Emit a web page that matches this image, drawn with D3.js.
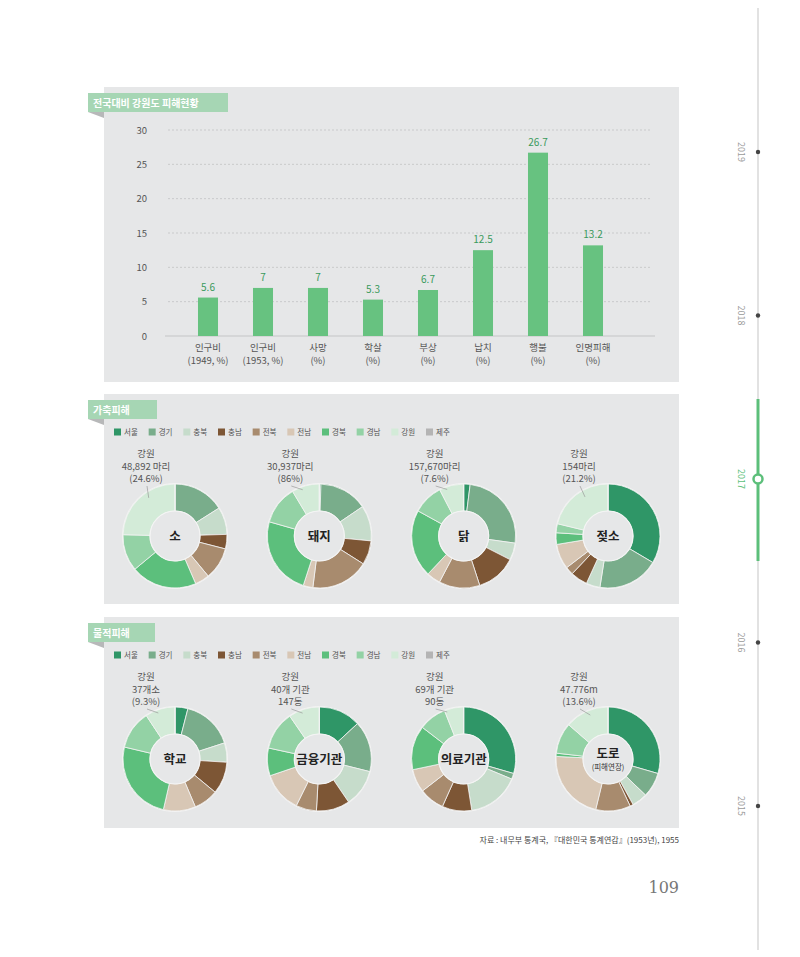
<!DOCTYPE html>
<html>
<head>
<meta charset="utf-8">
<script src="https://cdn.jsdelivr.net/npm/d3@7"></script>
<style>
  body { margin: 0; background: #fff; }
  svg { display: block; font-family: "Noto Sans CJK KR", "Noto Sans", sans-serif; }
</style>
</head>
<body>
<svg id="page" width="800" height="957"></svg>
<script>
// ---- data ----
const barNames = ['인구비', '인구비', '사망', '학살', '부상', '납치', '행불', '인명피해'];
const barUnits = ['(1949, %)', '(1953, %)', '(%)', '(%)', '(%)', '(%)', '(%)', '(%)'];
const barValues = [5.6, 7, 7, 5.3, 6.7, 12.5, 26.7, 13.2];
const yTicks = [0, 5, 10, 15, 20, 25, 30];

const regions = ['서울', '경기', '충북', '충남', '전북', '전남', '경북', '경남', '강원', '제주'];
const regionColors = ['#2f9667', '#79ad8b', '#c6dccb', '#7d5635', '#a88b6e', '#d8c7b5', '#5cbf7c', '#93d2a5', '#d3ebd8', '#b4b4b4'];

const livestockNames = ['소', '돼지', '닭', '젖소'];
const livestockShares = [
    [0, 16, 8.5, 4.5, 10, 4.5, 20.5, 11.4, 24.6, 0],
    [0.5, 15, 11, 7.5, 18, 3, 24.4, 12, 8.6, 0],
    [2, 25.2, 5.3, 12.5, 12.7, 4.3, 21, 9.4, 7.6, 0],
    [33.5, 19, 4.3, 5.3, 2.5, 7.8, 3.6, 2.8, 21.2, 0]
];
const livestockNotes = [
    ['강원', '48,892 마리', '(24.6%)'],
    ['강원', '30,937마리', '(86%)'],
    ['강원', '157,670마리', '(7.6%)'],
    ['강원', '154마리', '(21.2%)']
];

const propertyNames = ['학교', '금융기관', '의료기관', '도로'];
const propertySubs = ['', '', '', '(피해연장)'];
const propertyShares = [
    [4, 16, 6, 10, 7.6, 10, 25.1, 12, 9.3, 0],
    [13.1, 15.8, 11.6, 10.4, 6.4, 12.5, 8.6, 12, 9.6, 0],
    [29.5, 1.8, 16.2, 9.2, 7.8, 7.2, 13.7, 8.6, 6, 0],
    [29.5, 7.7, 4.8, 1, 10.8, 22, 1, 9.6, 13.6, 0]
];
const propertyNotes = [
    ['강원', '37개소', '(9.3%)'],
    ['강원', '40개 기관', '147동'],
    ['강원', '69개 기관', '90동'],
    ['강원', '47.776m', '(13.6%)']
];

const years = ['2019', '2018', '2017', '2016', '2015'];
const currentYear = '2017';

// ---- constants ----
const PANEL_FILL = '#e6e7e8';
const TAB_FILL = '#a6d6b4';
const BAR_FILL = '#67c280';
const VALUE_COLOR = '#3a9a5c';
const TEXT_COLOR = '#555';
const GREEN = '#5cbf7a';

const svg = d3.select('#page');

// ---- panels and tabs ----
function panel(y0, y1, title, tabW) {
    svg.append('rect').attr('x', 104).attr('y', y0).attr('width', 575).attr('height', y1 - y0).attr('fill', PANEL_FILL);
    const ty = y0 + 6;
    svg.append('path').attr('d', `M88,${ty + 19} L104,${ty + 19} L104,${ty + 25} Z`).attr('fill', '#b7b8b9');
    svg.append('rect').attr('x', 88).attr('y', ty).attr('width', tabW).attr('height', 19).attr('fill', TAB_FILL);
    svg.append('text').attr('x', 93).attr('y', ty + 13.5)
        .attr('fill', '#fff').attr('font-size', 10).attr('font-weight', 700)
        .text(title);
}
panel(87, 382, '전국대비 강원도 피해현황', 140);
panel(394, 604, '가축피해', 69);
panel(617, 828, '물적피해', 67);

// ---- bar chart ----
const x = d3.scaleBand().domain(d3.range(barValues.length)).range([180.5, 620.5])
    .paddingInner(0.636).paddingOuter(0.318);
const y = d3.scaleLinear().domain([0, 30]).range([336, 130]);

svg.append('g').selectAll('line').data(yTicks.filter(t => t > 0)).join('line')
    .attr('x1', 168).attr('x2', 652)
    .attr('y1', d => y(d)).attr('y2', d => y(d))
    .attr('stroke', '#c9cacb').attr('stroke-width', 1).attr('stroke-dasharray', '2,2');
svg.append('line').attr('x1', 165).attr('x2', 655).attr('y1', y(0)).attr('y2', y(0))
    .attr('stroke', '#c4c5c6').attr('stroke-width', 1);

svg.append('g').selectAll('text').data(yTicks).join('text')
    .attr('x', 147).attr('y', d => y(d) + 3.5)
    .attr('text-anchor', 'end').attr('font-size', 9.5).attr('fill', TEXT_COLOR)
    .text(d => d);

svg.append('g').selectAll('rect').data(barValues).join('rect')
    .attr('x', (d, i) => x(i)).attr('width', x.bandwidth())
    .attr('y', d => y(d)).attr('height', d => y(0) - y(d))
    .attr('fill', BAR_FILL);

svg.append('g').selectAll('text').data(barValues).join('text')
    .attr('x', (d, i) => x(i) + x.bandwidth() / 2).attr('y', d => y(d) - 7)
    .attr('text-anchor', 'middle').attr('font-size', 10)
    .attr('fill', VALUE_COLOR)
    .text(d => d);

const xl = svg.append('g').selectAll('text').data(barNames).join('text')
    .attr('text-anchor', 'middle').attr('font-size', 9.5).attr('fill', TEXT_COLOR);
xl.append('tspan').attr('x', (d, i) => x(i) + x.bandwidth() / 2).attr('y', 351).text(d => d);
xl.append('tspan').attr('x', (d, i) => x(i) + x.bandwidth() / 2).attr('y', 364).text((d, i) => barUnits[i]);

// ---- legends ----
const lx = d3.scalePoint().domain(regions).range([114, 426]);
function legend(cy) {
    const g = svg.append('g').selectAll('g').data(regions).join('g')
        .attr('transform', d => `translate(${lx(d)},${cy})`);
    g.append('rect').attr('x', 0).attr('y', -3.5).attr('width', 7).attr('height', 7)
        .attr('fill', (d, i) => regionColors[i]);
    g.append('text').attr('x', 10).attr('y', 3).attr('font-size', 7.5).attr('fill', TEXT_COLOR).text(d => d);
}
legend(432);
legend(655);

// ---- donuts ----
const pie = d3.pie().sort(null).value(d => d);
const R_OUT = 52, R_IN = 25;
const arc = d3.arc().innerRadius(R_IN).outerRadius(R_OUT);
const cx = d3.scalePoint().domain([0, 1, 2, 3]).range([175, 608]);

function donutRow(names, subs, shares, notes, cy) {
    names.forEach((name, k) => {
        const g = svg.append('g').attr('transform', `translate(${cx(k)},${cy})`);
        const arcs = pie(shares[k]);
        g.append('circle').attr('r', R_OUT + 1).attr('fill', '#f4f4f4').attr('opacity', 0.9);
        g.selectAll('path').data(arcs).join('path')
            .attr('d', arc)
            .attr('fill', (d, i) => regionColors[i])
            .attr('stroke', '#f2f2f2').attr('stroke-width', 0.8);
        g.append('circle').attr('r', R_IN).attr('fill', PANEL_FILL)
            .attr('stroke', '#f4f4f4').attr('stroke-width', 1.2);

        // centre label
        const sub = subs ? subs[k] : '';
        g.append('text').attr('text-anchor', 'middle').attr('y', sub ? -1 : 4.5)
            .attr('font-size', 12.5).attr('font-weight', 700).attr('fill', '#222').text(name);
        if (sub) {
            g.append('text').attr('text-anchor', 'middle').attr('y', 11)
                .attr('font-size', 7.5).attr('fill', '#333').text(sub);
        }

        // note for 강원
        const lxp = -29;
        g.append('g').selectAll('text').data(notes[k]).join('text')
            .attr('x', lxp).attr('y', (d, i) => -79 + i * 12.5)
            .attr('text-anchor', 'middle').attr('font-size', 9.5).attr('fill', TEXT_COLOR)
            .text(d => d);
        const a = arcs[8];
        const ang = a.startAngle + (a.endAngle - a.startAngle) * 0.6;
        const tx = Math.sin(ang) * (R_OUT - 7), ty = -Math.cos(ang) * (R_OUT - 7);
        const sx = lxp + 1, sy = -50;
        const len = Math.hypot(tx - sx, ty - sy), L = Math.min(len, 12);
        g.append('line').attr('x1', sx).attr('y1', sy)
            .attr('x2', sx + (tx - sx) * L / len).attr('y2', sy + (ty - sy) * L / len)
            .attr('stroke', '#9a9a9a').attr('stroke-width', 0.7);
    });
}
donutRow(livestockNames, null, livestockShares, livestockNotes, 536);
donutRow(propertyNames, propertySubs, propertyShares, propertyNotes, 759);

// ---- source + page number ----
svg.append('text').attr('x', 679).attr('y', 843).attr('text-anchor', 'end')
    .attr('font-size', 8).attr('fill', '#444')
    .text('자료 : 내무부 통계국, 『대한민국 통계연감』(1953년), 1955');
svg.append('text').attr('x', 679).attr('y', 893).attr('text-anchor', 'end')
    .attr('font-family', '"DejaVu Serif", "Liberation Serif", serif')
    .attr('font-size', 16).attr('fill', '#777').text('109');

// ---- timeline ----
const ty = d3.scalePoint().domain(years).range([152, 806]);
svg.append('line').attr('x1', 758).attr('x2', 758).attr('y1', 8).attr('y2', 950)
    .attr('stroke', '#d8d8d8').attr('stroke-width', 1.5);
svg.append('line').attr('x1', 758).attr('x2', 758)
    .attr('y1', ty(currentYear) - 80).attr('y2', ty(currentYear) + 82)
    .attr('stroke', GREEN).attr('stroke-width', 3);
const yr = svg.append('g').selectAll('g').data(years).join('g');
yr.filter(d => d !== currentYear).append('circle')
    .attr('cx', 758).attr('cy', d => ty(d)).attr('r', 2.2).attr('fill', '#444');
yr.filter(d => d === currentYear).append('circle')
    .attr('cx', 758).attr('cy', d => ty(d)).attr('r', 4.5)
    .attr('fill', '#fff').attr('stroke', GREEN).attr('stroke-width', 2.5);
yr.append('text')
    .attr('transform', d => `translate(738,${ty(d)}) rotate(90)`)
    .attr('text-anchor', 'middle').attr('font-size', 9)
    .attr('fill', d => d === currentYear ? GREEN : '#9a9a9a')
    .text(d => d);
</script>
</body>
</html>
